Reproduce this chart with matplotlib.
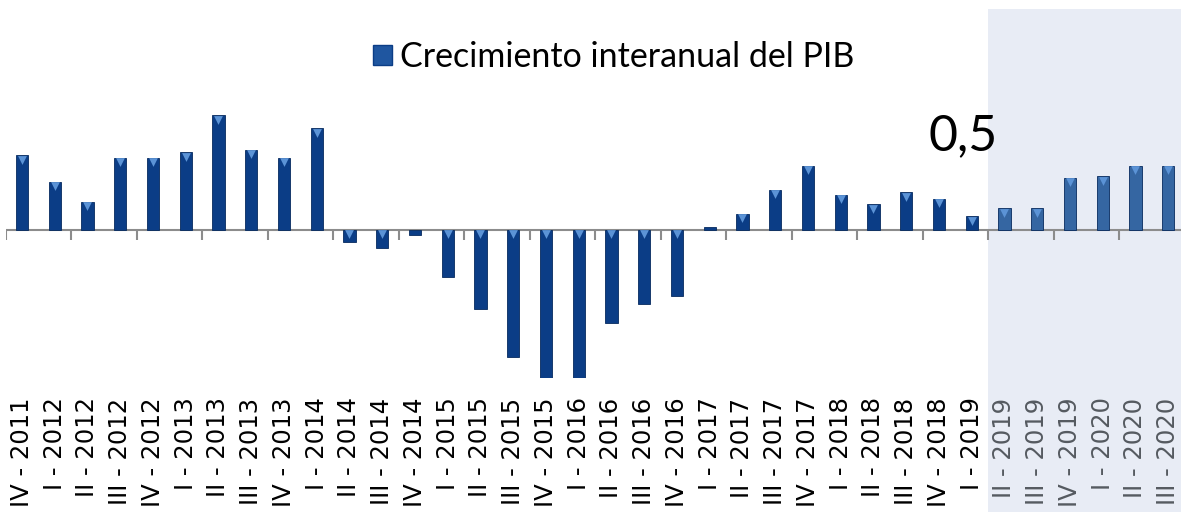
import matplotlib
matplotlib.use("Agg")
import matplotlib.pyplot as plt
from matplotlib.patches import Patch
import numpy as np

quarters = ["IV - 2011", "I - 2012", "II - 2012", "III - 2012", "IV - 2012",
            "I - 2013", "II - 2013", "III - 2013", "IV - 2013",
            "I - 2014", "II - 2014", "III - 2014", "IV - 2014",
            "I - 2015", "II - 2015", "III - 2015", "IV - 2015",
            "I - 2016", "II - 2016", "III - 2016", "IV - 2016",
            "I - 2017", "II - 2017", "III - 2017", "IV - 2017",
            "I - 2018", "II - 2018", "III - 2018", "IV - 2018",
            "I - 2019", "II - 2019", "III - 2019", "IV - 2019",
            "I - 2020", "II - 2020", "III - 2020"]
growth = [2.8, 1.8, 1.05, 2.7, 2.7,
          2.9, 4.3, 3.0, 2.7,
          3.8, -0.45, -0.7, -0.2,
          -1.8, -3.0, -4.8, -5.8,
          -5.6, -3.5, -2.8, -2.5,
          0.1, 0.6, 1.5, 2.4,
          1.3, 0.95, 1.4, 1.15,
          0.5, 0.8, 0.8, 1.95,
          2.0, 2.4, 2.4]
n_actual = 30  # IV-2011 .. I-2019 observed, the rest is forecast

DARK = "#0B3D86"
LIGHT = "#3566A2"
SHADE = "#E8ECF5"

fig = plt.figure(figsize=(11.81, 5.12), dpi=100)
ax = fig.add_axes([5.6 / 1181, 134 / 512, 1 - 5.6 / 1181, 369 / 512])
ax.set_facecolor("none")

x = np.arange(len(growth))
g = np.array(growth)
colors = [DARK if i < n_actual else LIGHT for i in x]
bars = ax.bar(x, growth, width=0.38, color=colors, edgecolor="#062a5e",
              linewidth=0.6, zorder=3)

# bevel highlight at the top of each bar (skip the tiny ones)
big = np.abs(g) >= 0.3
tops = np.maximum(g, 0)
ax.scatter(x[big], tops[big] - 0.17, marker="v", s=40, color="#5b93d6",
           zorder=4, linewidths=0)

ax.set_xlim(-0.5, 35.39)
ax.set_ylim(-5.58, 8.29)

# forecast shading (extends over the labels)
ax.axvspan(n_actual - 0.5, 36, ymin=-0.364, ymax=1, color=SHADE, zorder=0,
           clip_on=False, lw=0)

# zero line and category ticks
ax.axhline(0, color="#8c8c8c", lw=1.5, zorder=2)
bounds = np.arange(-0.5, len(growth), 2)
ax.vlines(bounds, -0.38, 0, color="#8c8c8c", lw=1.5, zorder=2)

ax.set_xticks(x)
ax.set_xticklabels(quarters, rotation=90, fontsize=17.5, family="DejaVu Sans")
ax.tick_params(axis="x", length=0, pad=14)
for i, lab in enumerate(ax.get_xticklabels()):
    lab.set_color("black" if i < n_actual else "#555a60")
ax.set_yticks([])
for s in ax.spines.values():
    s.set_visible(False)

ax.text(n_actual - 1.25, 3.0, "0,5", fontsize=36, family="Lato",
        ha="center", va="baseline", zorder=5)

handle = Patch(facecolor="#1f56a0", edgecolor="#0B3D86")
fig.legend([handle], ["Crecimiento interanual del PIB"], loc="center",
           bbox_to_anchor=(614 / 1181, 1 - 57 / 512), frameon=False,
           prop={"family": "Lato", "size": 24.5}, handlelength=0.55,
           handleheight=0.55, handletextpad=0.25)

fig.savefig("out.png", dpi=100)
